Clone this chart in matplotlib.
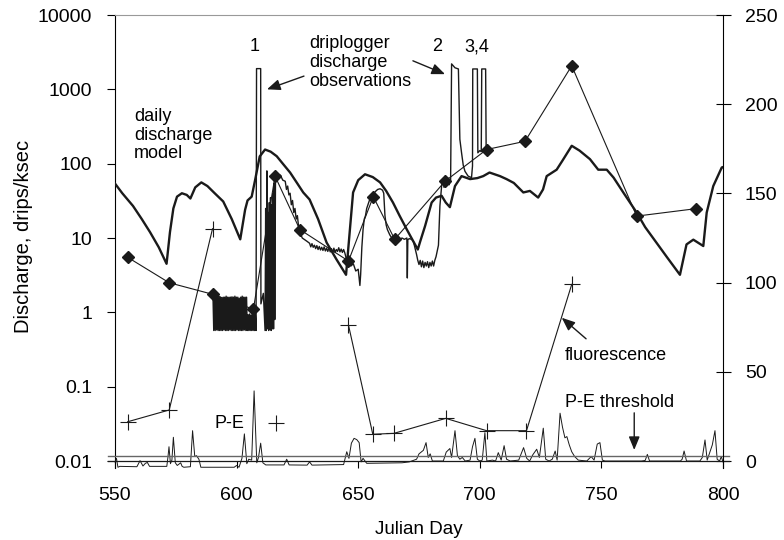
import numpy as np
import matplotlib
matplotlib.use("Agg")
import matplotlib.pyplot as plt
from matplotlib.ticker import NullLocator

plt.rcParams['font.family'] = ['Liberation Sans', 'DejaVu Sans']

# daily discharge model, drips/ksec (day, value)
model = np.array([
    (550, 54), (553, 40), (557.4, 27), (561, 18), (564.4, 12), (568, 7.5), (571.2, 4.5),
    (572.6, 12), (574, 25), (575.5, 36), (577.5, 40), (579.5, 38), (581, 34), (583, 48),
    (585.5, 56), (588, 50), (591, 40), (594.5, 31), (598, 18), (601.5, 9.6), (603.5, 24),
    (604.5, 32), (606.2, 36), (607.6, 60), (609.5, 125), (611.7, 155), (614, 145),
    (616.5, 126), (619, 100), (622, 76), (625, 54), (627.4, 41), (630, 33), (633.5, 18),
    (637, 8.7), (641, 5.2), (645, 3.2), (646.5, 12), (647.9, 41), (650, 60), (652.8, 72),
    (656, 66), (659, 56), (661.5, 43), (664.3, 30), (667, 20), (670, 13), (674.5, 7.0),
    (675.5, 9), (677.5, 14.5), (680.2, 30), (682, 35), (684.3, 37), (686, 30), (687.7, 26),
    (689.8, 50), (692.5, 68), (696, 62), (699, 64), (701.4, 68), (704, 76), (708.3, 68),
    (711, 62), (714, 55), (717.9, 41), (720.6, 43), (724, 35), (726, 45), (727.5, 68),
    (731.6, 83), (734, 110), (737.8, 174), (741, 150), (745.3, 115), (748.7, 83),
    (752.2, 83), (755, 65), (759, 41), (764.5, 22), (768, 14), (772.7, 8.6), (777, 5.5),
    (782.3, 3.2), (785, 8.2), (787.8, 9.5), (791.9, 7.8), (793.3, 22), (796, 50),
    (799.5, 89), (800, 90),
])

# driplogger discharge observations (day, value)
obs = np.array([
    (590.3, 1.6), (590.6, 0.57), (590.9, 1.65), (591.2, 0.57), (591.5, 1.6), (591.8, 0.58),
    (592.1, 1.62), (592.4, 0.57), (592.7, 1.65), (593.0, 0.57), (593.3, 1.6), (593.6, 0.57),
    (593.9, 1.55), (594.2, 0.57), (594.5, 1.6), (594.8, 0.58), (595.1, 1.6), (595.4, 0.57),
    (595.7, 1.65), (596.0, 0.57), (596.3, 1.6), (596.6, 0.57), (596.9, 1.6), (597.2, 0.58),
    (597.5, 1.6), (597.8, 0.57), (598.1, 1.62), (598.4, 0.57), (598.7, 1.6), (599.0, 0.57),
    (599.3, 1.65), (599.6, 0.57), (599.9, 1.6), (600.2, 0.58), (600.5, 1.6), (600.8, 0.57),
    (601.1, 1.55), (601.4, 0.57), (601.7, 1.6), (602.0, 0.57), (602.3, 1.65), (602.6, 0.57),
    (602.9, 1.6), (603.2, 0.58), (603.5, 1.6), (603.8, 0.57), (604.1, 1.6), (604.4, 0.57),
    (604.7, 0.93), (605.0, 0.57), (605.3, 0.95), (605.6, 0.57), (605.9, 0.92), (606.2, 0.57),
    (606.5, 0.95), (606.8, 0.57), (607.1, 0.93), (607.4, 0.57), (607.7, 0.95), (608.0, 0.57),
    (608.2, 1900), (609.9, 1900), (610.0, 1.3), (611.0, 1.8), (611.7, 0.57), (611.95, 25),
    (612.2, 0.57), (612.45, 80), (612.7, 0.6), (612.95, 22), (613.2, 0.57), (613.45, 30),
    (613.7, 0.6), (613.95, 35), (614.2, 0.57), (614.45, 28), (614.7, 0.6), (614.95, 40),
    (615.2, 0.6), (615.45, 55), (615.7, 0.8), (616.0, 72), (617.0, 68), (618.0, 70),
    (619.0, 60), (620.0, 58), (620.5, 45), (621.0, 50), (621.5, 38), (622.0, 40),
    (622.5, 28), (623.0, 32), (623.5, 22), (624.0, 25), (624.5, 18), (625.0, 20),
    (625.5, 14), (626.0, 12), (627.0, 10), (628.0, 9.5), (629.0, 9.0), (630.0, 8.5),
    (630.5, 7.6), (631.0, 8.4), (631.5, 7.5), (632.0, 8.0), (632.5, 7.2), (633.0, 7.9),
    (633.5, 7.0), (634.0, 7.7), (634.5, 6.9), (635.0, 7.5), (635.5, 6.8), (636.0, 7.6),
    (636.5, 6.7), (637.0, 7.3), (637.5, 6.6), (638.0, 7.4), (638.5, 6.5), (639.0, 7.2),
    (639.5, 6.4), (640.0, 7.3), (640.5, 6.4), (641.0, 7.0), (641.5, 6.6), (642.0, 7.4),
    (642.5, 6.5), (643.0, 7.1), (643.5, 6.4), (644.0, 7.0), (644.5, 6.3), (645.3, 5.0),
    (646.0, 4.8), (647.0, 4.2), (648.0, 4.5), (649.0, 3.6), (650.0, 3.8), (650.7, 2.3),
    (651.0, 3.2), (651.5, 7.5), (652.0, 13), (652.5, 18), (653.0, 20), (653.5, 25),
    (654.0, 28), (655.0, 35), (656.0, 38), (657.0, 42), (658.0, 45), (659.0, 46),
    (660.0, 44), (660.5, 40), (661.0, 20), (661.5, 15), (662.0, 13), (663.0, 11),
    (664.0, 9.8), (665.0, 9.6), (666.0, 10), (667.0, 9.5), (668.0, 10), (669.0, 9.6),
    (670.0, 10), (670.2, 2.9), (670.4, 9.5), (671.0, 9.8), (672.0, 9.6), (672.7, 9.0),
    (673.5, 7.0), (674.0, 6.0), (674.5, 5.0), (675.0, 4.4), (675.5, 5.0), (676.0, 4.1),
    (676.5, 4.9), (677.0, 4.0), (677.5, 4.7), (678.0, 4.2), (678.5, 4.8), (679.0, 4.0),
    (679.5, 4.7), (680.0, 4.2), (680.5, 4.9), (681.0, 4.2), (681.5, 5.0), (682.0, 5.6),
    (683.0, 8.0), (683.6, 27), (684.3, 50), (684.8, 62), (685.3, 48), (685.8, 68),
    (686.3, 55), (686.8, 65), (687.4, 52), (688.0, 60), (688.4, 2200), (689.8, 1950),
    (691.2, 1880), (691.8, 213), (692.5, 140), (693.2, 95), (693.9, 79), (695.2, 68),
    (696.6, 65), (697.0, 93), (697.1, 1880), (699.0, 1880), (699.2, 140), (700.0, 150),
    (700.6, 145), (700.8, 1880), (702.4, 1880), (702.6, 175), (702.8, 155),
])

# diamond samples (discharge axis)
dia_day = [555.2, 572.3, 590.4, 606.9, 615.8, 626.0, 646.0, 656.2, 665.0, 685.7,
           702.8, 718.6, 737.8, 764.5, 788.8]
dia_val = [5.5, 2.5, 1.74, 1.1, 68, 13, 4.9, 36, 9.6, 58,
           155, 200, 2075, 19.7, 24.8]

# fluorescence (right axis), gaps where no line is drawn
fl_day = [555.2, 572.3, 590.1, np.nan, 646.0, 656.0, 664.7, 686.0, 702.8, 719.2, 737.8]
fl_val = [22.0, 28.6, 130.2, np.nan, 76.2, 15.0, 15.5, 23.9, 17.0, 17.0, 99.0]
fl_extra_day = [616.2]
fl_extra_val = [21.5]

# P-E (right axis)
pe = np.array([
    (550.0, -0.5), (550.6, 1.5), (551.2, -3.5), (552.0, -3.0), (559.0, -3.2), (560.3, 0.2),
    (561.5, -2.8), (562.5, -1.3), (563.3, -0.8), (564.2, -3.0), (571.3, -3.0), (571.8, 2.5),
    (572.2, 8.0), (572.8, -1.5), (573.4, 0.5), (574.0, 13.3), (574.8, -1.0), (575.6, -2.5),
    (577.0, -1.0), (577.6, -3.0), (578.3, -3.5), (581.0, -3.2), (581.9, 17.0), (582.8, 2.5),
    (583.5, 3.0), (584.5, 1.0), (585.3, -3.5), (599.0, -3.5), (600.0, -2.5), (601.0, -3.5),
    (602.2, 1.5), (603.2, 15.2), (604.2, -1.5), (605.0, 1.0), (606.2, 0.5), (607.2, 39.3),
    (608.3, -1.0), (609.0, 2.0), (609.9, 10.0), (610.8, -1.0), (612.0, -2.2), (619.5, -2.2),
    (620.6, 1.0), (621.6, -2.2), (629.0, -2.3), (630.0, -0.5), (631.0, -2.3), (644.0, -2.0),
    (645.3, 5.2), (646.2, 1.5), (647.2, 10.0), (648.3, 12.7), (649.4, 12.0), (650.4, 10.3),
    (651.2, -0.5), (652.0, 1.5), (653.5, -1.3), (668.0, -1.0), (671.0, -0.5), (674.0, 1.0),
    (675.0, 4.0), (676.8, 6.0), (677.9, 10.3), (678.8, 2.0), (679.6, 4.0), (680.5, 0.0),
    (685.0, 0.0), (686.2, 5.0), (687.7, 7.0), (688.4, 2.0), (689.8, 17.0), (690.8, 3.0),
    (691.8, 1.0), (692.8, 2.0), (694.0, 0.0), (696.0, 0.5), (697.0, 8.0), (698.0, 12.7),
    (699.0, 1.0), (700.0, 0.0), (701.0, 0.5), (702.1, 15.9), (702.9, 0.0), (705.2, 0.5),
    (706.5, 0.0), (707.6, 4.7), (708.8, 0.5), (710.0, 8.6), (711.0, 1.0), (712.5, 0.0),
    (716.0, 0.5), (718.0, 7.5), (719.3, 1.5), (720.5, 0.0), (721.8, 3.5), (723.4, 6.6),
    (724.5, 2.0), (726.1, 18.4), (727.1, 1.0), (728.5, 0.0), (729.8, 1.0), (731.0, 5.6),
    (731.8, 0.5), (733.0, 26.8), (734.0, 19.0), (735.0, 13.0), (735.8, 13.7), (736.8, 9.0),
    (737.8, 5.2), (739.0, 2.5), (740.5, 0.5), (744.0, 0.0), (745.8, 2.5), (747.0, 0.5),
    (748.3, 9.5), (749.4, 10.3), (750.4, 0.5), (751.5, 0.0), (766.5, 0.0), (768.0, 0.3),
    (768.9, 3.7), (769.8, 0.0), (782.5, 0.0), (783.2, 1.0), (784.0, 5.6), (785.0, 0.0),
    (790.5, 0.0), (791.5, 2.0), (792.6, 11.8), (793.5, 0.5), (794.6, 5.0), (795.6, 9.0),
    (796.7, 17.0), (797.6, 1.0), (798.6, 0.0), (799.3, 2.5), (800.0, -0.5),
])
pe_threshold = 2.8

left_ticks = [0.01, 0.1, 1, 10, 100, 1000, 10000]
left_labels = ['0.01', '0.1', '1', '10', '100', '1000', '10000']
right_ticks = [0, 50, 100, 150, 200, 250]
x_ticks = [550, 600, 650, 700, 750, 800]

ink = '#1a1a1a'

fig = plt.figure(figsize=(7.84, 5.4), dpi=100)
ax = fig.add_axes([0.14668, 0.13333, 0.77551, 0.83889])
ax.set_yscale('log')
ax.set_xlim(550, 800)
ax.set_ylim(10 ** -2.094, 1e4)

ax2 = ax.twinx()
ax2.set_ylim(-3.92, 250)

# discharge axis series
ax.plot(model[:, 0], model[:, 1], color=ink, lw=1.7, zorder=4)
ax.plot(obs[:, 0], obs[:, 1], color=ink, lw=1.0, zorder=3)
ax.plot(dia_day, dia_val, color=ink, lw=0.8, marker='D', ms=6, zorder=5)

# right axis series
ax2.plot(pe[:, 0], pe[:, 1], color=ink, lw=0.7, clip_on=False)
ax2.plot(fl_day, fl_val, color=ink, lw=0.8, marker='+', ms=11, mew=0.8)
ax2.plot(fl_extra_day, fl_extra_val, ls='none', color=ink, marker='+', ms=11, mew=0.8)
ax2.axhline(pe_threshold, color='#666666', lw=1.0, xmin=-0.012, xmax=1.01, clip_on=False)
ax2.axhline(0, color=ink, lw=0.9, xmin=-0.012, xmax=1.01, clip_on=False)

# axes styling
ax.spines['bottom'].set_visible(False)
ax2.spines['bottom'].set_visible(False)
ax.spines['top'].set_color('#999999')
ax.spines['top'].set_linewidth(0.8)
ax2.spines['top'].set_visible(False)
ax2.spines['left'].set_visible(False)
ax.spines['right'].set_visible(False)
ax.spines['left'].set_linewidth(0.8)
ax2.spines['right'].set_linewidth(0.8)

ax.set_yticks(left_ticks)
ax.set_yticklabels(left_labels)
ax.yaxis.set_minor_locator(NullLocator())
ax.set_xticks(x_ticks)
ax.tick_params(axis='y', direction='out', length=5.8, width=0.8, pad=10.5, labelsize=14)
ax.tick_params(axis='x', direction='in', length=5, width=0.8, pad=14, labelsize=14)
ax2.set_yticks(right_ticks)
ax2.tick_params(axis='y', direction='inout', length=10.8, width=0.8, pad=10.4, labelsize=14)

ax.set_xlabel('Julian Day', fontsize=13.5, labelpad=12)
ax.set_ylabel('Discharge, drips/ksec', fontsize=14.5)
ax.yaxis.set_label_coords(-0.135, 0.512)

# annotations
fs = 13
ax.text(607.6, 3750, '1', fontsize=fs, ha='center', va='center')
ax.text(682.3, 3750, '2', fontsize=fs, ha='center', va='center')
ax.text(698.7, 3750, '3,4', fontsize=fs, ha='center', va='center')
ax.text(629.8, 2280, 'driplogger\ndischarge\nobservations', fontsize=fs,
        ha='left', va='center', linespacing=1.15)
ax.text(557.9, 243, 'daily\ndischarge\nmodel', fontsize=fs,
        ha='left', va='center', linespacing=1.15)
ax2.text(735.0, 59.4, 'fluorescence', fontsize=fs, ha='left', va='center')
ax2.text(735.0, 32.7, 'P-E threshold', fontsize=fs, ha='left', va='center')
ax2.text(591.1, 21.1, 'P-E', fontsize=fs, ha='left', va='center')

arrow = dict(arrowstyle='-|>,head_length=0.8,head_width=0.33', color=ink, lw=1.0,
             shrinkA=0, shrinkB=0)
ax.annotate('', xy=(612.5, 1000), xytext=(627.7, 1507), arrowprops=arrow)
ax.annotate('', xy=(685.7, 1600), xytext=(672.5, 2420), arrowprops=arrow)
ax2.annotate('', xy=(733.7, 80.3), xytext=(743.7, 68.5), arrowprops=arrow)
ax2.annotate('', xy=(763.5, 6.2), xytext=(763.5, 27), arrowprops=arrow)

fig.savefig('out.png', dpi=100)
